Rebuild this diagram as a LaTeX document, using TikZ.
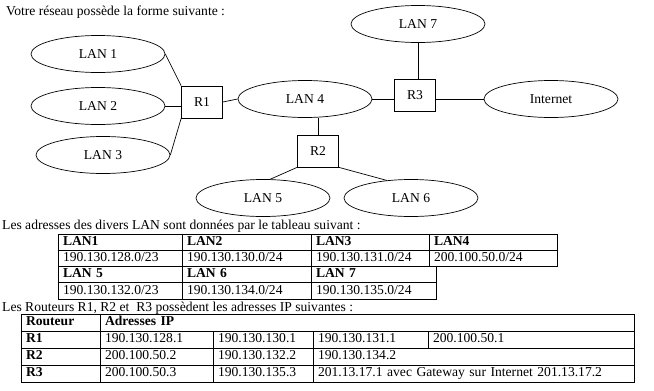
\documentclass[tikz,border=0pt]{standalone}
\usepackage{fontspec}
\setmainfont{Liberation Serif}
\usetikzlibrary{shapes.geometric, positioning}

\begin{document}
\begin{tikzpicture}[
    x=1pt, y=-1pt,
    font=\fontsize{13.6}{15}\selectfont,
    % --- Style Definitions ---
    lan/.style={
        ellipse, draw, line width=0.7pt,
        minimum width=134pt, minimum height=37pt, inner sep=0pt
    },
    router/.style={
        rectangle, draw, line width=0.7pt,
        minimum width=41pt, minimum height=32pt, inner sep=0pt
    },
    link/.style={line width=0.7pt},
    txt/.style={anchor=base west, inner sep=0pt},
    cell/.style={
        rectangle, draw, line width=0.6pt, outer sep=0pt,
        text width=#1, align=left,
        inner xsep=5pt, inner ysep=0pt,
        minimum height=16.25pt, text height=9.5pt, text depth=3pt
    },
    rcell/.style={cell=#1, minimum height=17pt}
]
\useasboundingbox (0,0) rectangle (654,391);

% ================= Network =================
\node[txt] (intro) at (6,15) {Votre réseau possède la forme suivante :};

\node[lan] (lan1) at (98,54) {LAN 1};
\node[lan] (lan2) at (98,106) {LAN 2};
\node[lan] (lan3) at (103,155) {LAN 3};
\node[lan] (lan4) at (305,99) {LAN 4};
\node[lan] (lan5) at (263,198) {LAN 5};
\node[lan] (lan6) at (411,198) {LAN 6};
\node[lan] (lan7) at (418,24) {LAN 7};
\node[lan] (inet) at (551,99) {Internet};

\node[router] (r1) at (202,102) {R1};
\node[router] (r2) at (318,151) {R2};
\node[router] (r3) at (415,95) {R3};

% links
\draw[link] (lan1.east) -- (r1.north west);
\draw[link] (lan2.east) -- (lan2.east -| r1.west);
\draw[link] (lan3.east) -- (r1.south west);
\draw[link] (r1.east) -- (lan4.west);
\draw[link] (r2.north) -- (r2.north |- lan4.south);
\draw[link] (r2.south west) -- (lan5.69);
\draw[link] (r2.south east) -- (lan6.144);
\draw[link] (lan7.south) -- (lan7.south |- r3.north);
\draw[link] (lan4.east) -- (lan4.east -| r3.west);
\draw[link] (inet.west -| r3.east) -- (inet.west);

% ================= LAN table =================
\node[txt] (lantxt) at (2,229) {Les adresses des divers LAN sont données par le tableau suivant :};

\node[cell=114pt, anchor=north west] (l1) at (58,234) {\textbf{LAN1}};
\node[cell=119pt, right=0pt of l1] (l2) {\textbf{LAN2}};
\node[cell=108pt, right=0pt of l2] (l3) {\textbf{LAN3}};
\node[cell=118pt, right=0pt of l3] (l4) {\textbf{LAN4}};

\node[cell=114pt, below=0pt of l1] (a1) {190.130.128.0/23};
\node[cell=119pt, right=0pt of a1] (a2) {190.130.130.0/24};
\node[cell=108pt, right=0pt of a2] (a3) {190.130.131.0/24};
\node[cell=118pt, right=0pt of a3] (a4) {200.100.50.0/24};

\node[cell=114pt, below=0pt of a1] (l5) {\textbf{LAN 5}};
\node[cell=119pt, right=0pt of l5] (l6) {\textbf{LAN 6}};
\node[cell=115pt, right=0pt of l6] (l7) {\textbf{LAN 7}};

\node[cell=114pt, below=0pt of l5] (a5) {190.130.132.0/23};
\node[cell=119pt, right=0pt of a5] (a6) {190.130.134.0/24};
\node[cell=115pt, right=0pt of a6] (a7) {190.130.135.0/24};

\draw[line width=1.1pt] (l5.north west) -- (l7.north east);

% ================= Router table =================
\node[txt] (rtrtxt) at (2,311) {Les Routeurs R1, R2 et~ R3 possèdent les adresses IP suivantes :};

\node[rcell=69pt, anchor=north west] (h0) at (21,314) {\textbf{Routeur}};
\node[rcell=524pt, right=0pt of h0] (h1) {\textbf{Adresses IP}};

\node[rcell=69pt, below=0pt of h0] (p0) {\textbf{R1}};
\node[rcell=103pt, right=0pt of p0] (p1) {190.130.128.1};
\node[rcell=90pt, right=0pt of p1] (p2) {190.130.130.1};
\node[rcell=105pt, right=0pt of p2] (p3) {190.130.131.1};
\node[rcell=196pt, right=0pt of p3] (p4) {200.100.50.1};

\node[rcell=69pt, below=0pt of p0] (q0) {\textbf{R2}};
\node[rcell=103pt, right=0pt of q0] (q1) {200.100.50.2};
\node[rcell=90pt, right=0pt of q1] (q2) {190.130.132.2};
\node[rcell=311pt, right=0pt of q2] (q3) {190.130.134.2};

\node[rcell=69pt, below=0pt of q0] (s0) {\textbf{R3}};
\node[rcell=103pt, right=0pt of s0] (s1) {200.100.50.3};
\node[rcell=90pt, right=0pt of s1] (s2) {190.130.135.3};
\node[rcell=311pt, right=0pt of s2] (s3) {201.13.17.1 avec Gateway sur Internet 201.13.17.2};

\end{tikzpicture}
\end{document}
